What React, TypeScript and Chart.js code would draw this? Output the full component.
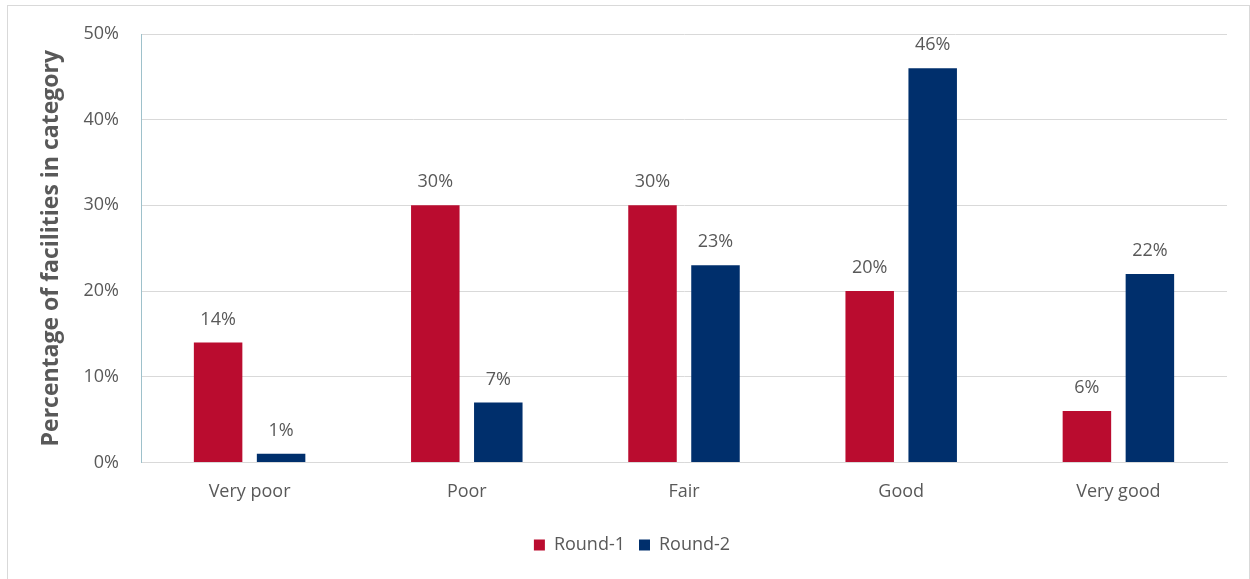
import React, { useEffect, useRef } from "react";
import { Chart, registerables } from "chart.js";

Chart.register(...registerables);

const categories = ["Very poor", "Poor", "Fair", "Good", "Very good"];
const round1 = [14, 30, 30, 20, 6];
const round2 = [1, 7, 23, 46, 22];
const seriesNames = ["Round-1", "Round-2"];
const yTicks = [0, 10, 20, 30, 40, 50];

const RED = "#BA0C2F";
const BLUE = "#002F6C";
const TEXT = "#595959";
const FONT = "'Open Sans', Lato, sans-serif";

const valueLabels = {
  id: "valueLabels",
  afterDatasetsDraw(chart: any) {
    const ctx = chart.ctx;
    ctx.save();
    ctx.fillStyle = TEXT;
    ctx.font = `18px ${FONT}`;
    ctx.textAlign = "center";
    ctx.textBaseline = "middle";
    chart.data.datasets.forEach((ds: any, i: number) => {
      const meta = chart.getDatasetMeta(i);
      meta.data.forEach((bar: any, j: number) => {
        ctx.fillText(`${ds.data[j]}%`, bar.x, bar.y - 23);
      });
    });
    ctx.restore();
  },
};

export default function App() {
  const ref = useRef<HTMLCanvasElement | null>(null);
  useEffect(() => {
    if (!ref.current) return;
    const chart = new Chart(ref.current, {
      type: "bar",
      data: {
        labels: categories,
        datasets: [
          { label: seriesNames[0], data: round1, backgroundColor: RED, categoryPercentage: 0.58, barPercentage: 0.77 },
          { label: seriesNames[1], data: round2, backgroundColor: BLUE, categoryPercentage: 0.58, barPercentage: 0.77 },
        ],
      },
      options: {
        responsive: false,
        animation: false,
        layout: { padding: { left: 29, right: 22, top: 28, bottom: 16 } },
        plugins: {
          legend: {
            position: "bottom",
            labels: {
              boxWidth: 11,
              boxHeight: 11,
              padding: 14,
              color: TEXT,
              font: { family: FONT, size: 18 },
            },
          },
          tooltip: { enabled: false },
        },
        scales: {
          x: {
            grid: { display: false, drawTicks: false },
            border: { color: "#D9D9D9", width: 1 },
            ticks: { color: TEXT, font: { family: FONT, size: 18 }, padding: 19 },
          },
          y: {
            min: 0,
            max: 50,
            afterBuildTicks: (scale: any) => {
              scale.ticks = yTicks.map((v) => ({ value: v }));
            },
            afterFit: (scale: any) => {
              scale.width = 104;
              scale.paddingTop = 0;
              scale.paddingBottom = 0;
            },
            grid: { color: "#D9D9D9", drawTicks: false },
            border: { color: "#9EC1CB", width: 1 },
            ticks: {
              color: TEXT,
              font: { family: FONT, size: 18 },
              padding: 22,
              callback: (v: any) => `${v}%`,
            },
            title: {
              display: true,
              text: "Percentage of facilities in category",
              color: TEXT,
              font: { family: FONT, size: 23, weight: "bold" },
              padding: { top: 1, bottom: 0 },
            },
          },
        },
      },
      plugins: [valueLabels],
    });
    return () => chart.destroy();
  }, []);

  return (
    <div
      style={{
        position: "absolute",
        left: 7,
        top: 5,
        width: 1241,
        height: 580,
        border: "1px solid #D9D9D9",
        background: "#fff",
      }}
    >
      <canvas ref={ref} width={1241} height={574} style={{ display: "block" }} />
    </div>
  );
}
